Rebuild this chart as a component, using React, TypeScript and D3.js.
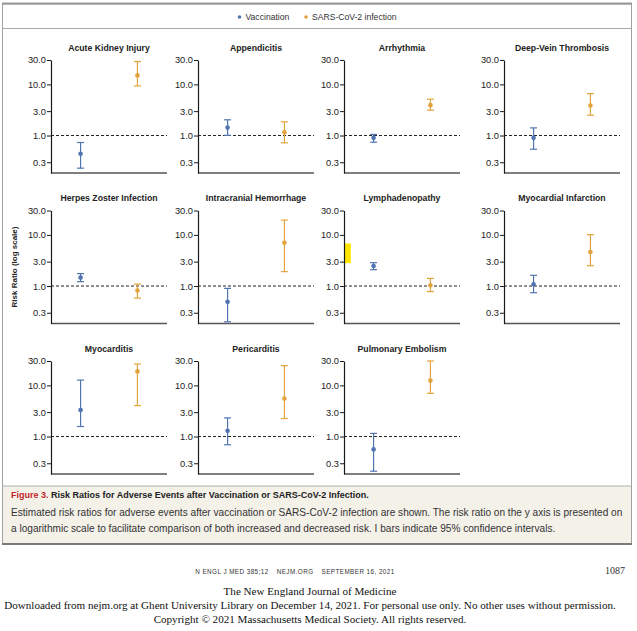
import React, { useRef, useEffect } from 'react'
import * as d3 from 'd3'

// Adverse events (panel order, left to right, top to bottom)
const events = [
  'Acute Kidney Injury',
  'Appendicitis',
  'Arrhythmia',
  'Deep-Vein Thrombosis',
  'Herpes Zoster Infection',
  'Intracranial Hemorrhage',
  'Lymphadenopathy',
  'Myocardial Infarction',
  'Myocarditis',
  'Pericarditis',
  'Pulmonary Embolism',
]

// Risk ratios after vaccination, with 95% CI
const vaccRR = [0.44, 1.43, 0.9, 0.9, 1.46, 0.49, 2.46, 1.08, 3.3, 1.29, 0.56]
const vaccLo = [0.23, 1.01, 0.74, 0.54, 1.22, 0.2, 2.09, 0.74, 1.57, 0.69, 0.21]
const vaccHi = [0.73, 2.03, 1.05, 1.41, 1.75, 0.9, 2.86, 1.62, 12.7, 2.31, 1.15]

// Risk ratios after SARS-CoV-2 infection, with 95% CI
const infRR = [15, 1.16, 3.93, 3.85, 0.82, 7.0, 1.03, 4.61, 18.8, 5.52, 12.4]
const infLo = [9.35, 0.72, 3.13, 2.5, 0.58, 1.91, 0.78, 2.5, 4.03, 2.25, 7.0]
const infHi = [28, 1.85, 5.14, 6.6, 1.09, 19.5, 1.41, 10.1, 26.2, 24.4, 30]

const groups = ['Vaccination', 'SARS-CoV-2 infection']
const yTicks = [0.3, 1, 3, 10, 30]

const W = 637
const H = 631
const colX = [51, 198, 344, 504]
const rowTop = [60, 210.5, 361]
const panelW = 116
const panelH = 113

const BLUE = '#4f74b0'
const ORANGE = '#e2a33c'

export default function App() {
  const svgRef = useRef<SVGSVGElement>(null)

  useEffect(() => {
    if (!svgRef.current) return
    const svg = d3.select(svgRef.current)
    svg.selectAll('*').remove()

    const sans = "'Liberation Sans', Arial, sans-serif"
    const serif = "'Liberation Serif', 'Times New Roman', serif"

    svg.append('rect').attr('width', W).attr('height', H).attr('fill', '#fff')

    // Frame
    svg.append('rect')
      .attr('x', 2.5).attr('y', 4).attr('width', 629).attr('height', 539)
      .attr('fill', 'none').attr('stroke', '#a0a0a0')
    svg.append('line')
      .attr('x1', 2).attr('x2', 632).attr('y1', 3.5).attr('y2', 3.5)
      .attr('stroke', '#999').attr('stroke-width', 2)
    svg.append('line')
      .attr('x1', 2.5).attr('x2', 631.5).attr('y1', 28.5).attr('y2', 28.5)
      .attr('stroke', '#a8a8a8')

    // Legend
    const legendX = [239.5, 306]
    const legend = svg.append('g').attr('font-family', sans).attr('font-size', 8.6).attr('fill', '#333')
    groups.forEach((g, i) => {
      legend.append('circle')
        .attr('cx', legendX[i]).attr('cy', 17).attr('r', 1.8)
        .attr('fill', i === 0 ? BLUE : ORANGE)
      legend.append('text')
        .attr('x', legendX[i] + 6).attr('y', 20)
        .text(g)
    })

    const x = d3.scalePoint<string>().domain(groups).range([0, panelW]).padding(0.52)
    const y = d3.scaleLog().domain([0.185, 30]).range([panelH, 0])

    events.forEach((name, i) => {
      const col = i % 4
      const row = Math.floor(i / 4)
      const g = svg.append('g').attr('transform', `translate(${colX[col]},${rowTop[row]})`)

      // Title
      g.append('text')
        .attr('x', panelW / 2).attr('y', -9.5)
        .attr('text-anchor', 'middle')
        .attr('font-family', sans).attr('font-size', 8.7).attr('font-weight', 'bold')
        .attr('fill', '#222')
        .text(name)

      // highlighter mark on the page
      if (name === 'Lymphadenopathy') {
        g.append('rect')
          .attr('x', 0.5).attr('y', y(6.8))
          .attr('width', 6.3).attr('height', y(2.8) - y(6.8))
          .attr('fill', '#ffe500')
      }

      // x axis baseline
      g.append('line')
        .attr('x1', 0).attr('x2', panelW)
        .attr('y1', panelH).attr('y2', panelH)
        .attr('stroke', '#555').attr('stroke-width', 1.5)

      // y axis
      const yAxis = g.append('g')
        .call(d3.axisLeft(y).tickValues(yTicks).tickFormat(d3.format('.1f')).tickSize(4).tickSizeOuter(0).tickPadding(1))
      yAxis.select('.domain').attr('stroke', '#1a1a1a').attr('stroke-width', 1.2)
      yAxis.selectAll('.tick line').attr('stroke', '#1a1a1a')
      yAxis.selectAll('text').attr('fill', '#222').attr('font-size', 9.3).attr('font-family', sans)

      // reference line at 1.0
      g.append('line')
        .attr('x1', 0).attr('x2', panelW)
        .attr('y1', y(1)).attr('y2', y(1))
        .attr('stroke', '#222').attr('stroke-dasharray', '3,2').attr('stroke-width', 1)

      const series = [
        { key: groups[0], rr: vaccRR[i], lo: vaccLo[i], hi: vaccHi[i], color: BLUE },
        { key: groups[1], rr: infRR[i], lo: infLo[i], hi: infHi[i], color: ORANGE },
      ]

      series.forEach(s => {
        const cx = x(s.key)!
        const bar = g.append('g').attr('stroke', s.color).attr('stroke-width', 1.2)
        bar.append('line')
          .attr('x1', cx).attr('x2', cx)
          .attr('y1', y(s.lo)).attr('y2', y(s.hi))
        bar.append('line')
          .attr('x1', cx - 3.5).attr('x2', cx + 3.5)
          .attr('y1', y(s.lo)).attr('y2', y(s.lo))
        bar.append('line')
          .attr('x1', cx - 3.5).attr('x2', cx + 3.5)
          .attr('y1', y(s.hi)).attr('y2', y(s.hi))
        g.append('circle')
          .attr('cx', cx).attr('cy', y(s.rr)).attr('r', 2.3)
          .attr('fill', s.color)
      })
    })

    // Y axis label
    svg.append('text')
      .attr('transform', 'translate(17,267) rotate(-90)')
      .attr('text-anchor', 'middle')
      .attr('font-family', sans).attr('font-size', 8).attr('font-weight', 'bold')
      .attr('fill', '#222')
      .text('Risk Ratio (log scale)')

    // Caption box
    svg.append('rect')
      .attr('x', 3).attr('y', 486).attr('width', 628).attr('height', 57)
      .attr('fill', '#f4f1e9')
    svg.append('line')
      .attr('x1', 2.5).attr('x2', 631.5).attr('y1', 486).attr('y2', 486)
      .attr('stroke', '#b0b0b0')
    svg.append('line')
      .attr('x1', 2).attr('x2', 632).attr('y1', 544).attr('y2', 544)
      .attr('stroke', '#7a7a7a').attr('stroke-width', 2)

    const cap = svg.append('text')
      .attr('x', 11).attr('y', 498)
      .attr('font-family', sans).attr('font-size', 9).attr('font-weight', 'bold')
    cap.append('tspan').attr('fill', '#c4262e').text('Figure 3. ')
    cap.append('tspan').attr('fill', '#222').text('Risk Ratios for Adverse Events after Vaccination or SARS-CoV-2 Infection.')

    svg.append('text')
      .attr('x', 11).attr('y', 515.5)
      .attr('font-family', sans).attr('font-size', 10.1).attr('fill', '#333')
      .text('Estimated risk ratios for adverse events after vaccination or SARS-CoV-2 infection are shown. The risk ratio on the y axis is presented on')
    svg.append('text')
      .attr('x', 11).attr('y', 531.5)
      .attr('font-family', sans).attr('font-size', 10.1).attr('fill', '#333')
      .text('a logarithmic scale to facilitate comparison of both increased and decreased risk. I bars indicate 95% confidence intervals.')

    // Page footer
    const foot = svg.append('text')
      .attr('x', 295).attr('y', 574)
      .attr('text-anchor', 'middle')
      .attr('font-family', sans).attr('font-size', 6.3).attr('letter-spacing', 0.45)
      .attr('fill', '#333')
    foot.append('tspan').text('N ENGL J MED 385;12')
    foot.append('tspan').attr('dx', 8).text('NEJM.ORG')
    foot.append('tspan').attr('dx', 8).text('SEPTEMBER 16, 2021')

    svg.append('text')
      .attr('x', 625).attr('y', 574)
      .attr('text-anchor', 'end')
      .attr('font-family', serif).attr('font-size', 10).attr('fill', '#333')
      .text('1087')

    const lines = [
      'The New England Journal of Medicine',
      'Downloaded from nejm.org at Ghent University Library on December 14, 2021. For personal use only. No other uses without permission.',
      'Copyright © 2021 Massachusetts Medical Society. All rights reserved.',
    ]
    lines.forEach((t, i) => {
      svg.append('text')
        .attr('x', 310).attr('y', 595 + i * 14)
        .attr('text-anchor', 'middle')
        .attr('font-family', serif).attr('font-size', 11.1).attr('fill', '#111')
        .text(t)
    })
  }, [])

  return (
    <svg
      ref={svgRef}
      width={W}
      height={H}
      style={{ position: 'absolute', left: 0, top: 0 }}
    />
  )
}
